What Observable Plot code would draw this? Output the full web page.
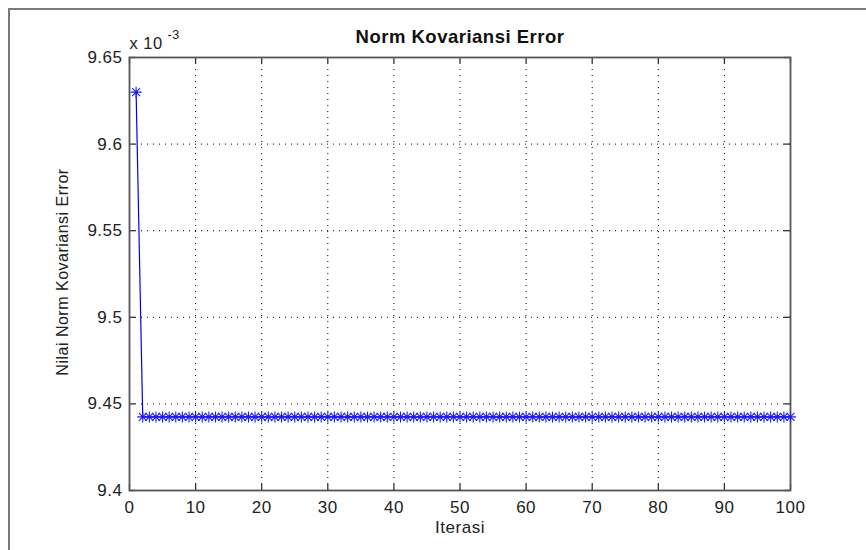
<!DOCTYPE html>
<html>
<head>
<meta charset="utf-8">
<script src="https://cdn.jsdelivr.net/npm/d3@7"></script>
<script src="https://cdn.jsdelivr.net/npm/@observablehq/plot@0.6"></script>
<style>
  html, body { margin: 0; padding: 0; background: #fff; }
  #wrap { position: relative; width: 866px; height: 550px; overflow: hidden; }
  #outer { position: absolute; left: 8px; top: 8px; width: 900px; height: 600px;
           border-left: 2px solid #7a7a7a; border-top: 2px solid #7a7a7a; }
  #chart { position: absolute; left: 0; top: 0; }
  svg { font-family: "Liberation Sans", Arial, sans-serif; }
  svg text { letter-spacing: 0.5px; }
</style>
</head>
<body>
<div id="wrap"><div id="outer"></div><div id="chart"></div></div>
<script>
// Data (values in units of 10^-3)
const iterasi = [
  1,2,3,4,5,6,7,8,9,10,11,12,13,14,15,16,17,18,19,20,
  21,22,23,24,25,26,27,28,29,30,31,32,33,34,35,36,37,38,39,40,
  41,42,43,44,45,46,47,48,49,50,51,52,53,54,55,56,57,58,59,60,
  61,62,63,64,65,66,67,68,69,70,71,72,73,74,75,76,77,78,79,80,
  81,82,83,84,85,86,87,88,89,90,91,92,93,94,95,96,97,98,99,100
];
const normError = [
  9.63,9.4425,9.4425,9.4425,9.4425,9.4425,9.4425,9.4425,9.4425,9.4425,
  9.4425,9.4425,9.4425,9.4425,9.4425,9.4425,9.4425,9.4425,9.4425,9.4425,
  9.4425,9.4425,9.4425,9.4425,9.4425,9.4425,9.4425,9.4425,9.4425,9.4425,
  9.4425,9.4425,9.4425,9.4425,9.4425,9.4425,9.4425,9.4425,9.4425,9.4425,
  9.4425,9.4425,9.4425,9.4425,9.4425,9.4425,9.4425,9.4425,9.4425,9.4425,
  9.4425,9.4425,9.4425,9.4425,9.4425,9.4425,9.4425,9.4425,9.4425,9.4425,
  9.4425,9.4425,9.4425,9.4425,9.4425,9.4425,9.4425,9.4425,9.4425,9.4425,
  9.4425,9.4425,9.4425,9.4425,9.4425,9.4425,9.4425,9.4425,9.4425,9.4425,
  9.4425,9.4425,9.4425,9.4425,9.4425,9.4425,9.4425,9.4425,9.4425,9.4425,
  9.4425,9.4425,9.4425,9.4425,9.4425,9.4425,9.4425,9.4425,9.4425,9.4425
];
const xTicks = [0,10,20,30,40,50,60,70,80,90,100];
const yTicks = [9.4,9.45,9.5,9.55,9.6,9.65];
const yTickLabels = ["9.4","9.45","9.5","9.55","9.6","9.65"];
const title = "Norm Kovariansi Error";
const xLabel = "Iterasi";
const yLabel = "Nilai Norm Kovariansi Error";
const expBase = "x 10";
const expPow = "-3";

const data = iterasi.map((x, i) => ({x, y: normError[i]}));

// MATLAB-style '*' marker (plus + times)
const starSymbol = {
  draw(ctx, size) {
    const r = Math.sqrt(size / Math.PI);
    const d = r * 0.72;
    ctx.moveTo(-r, 0); ctx.lineTo(r, 0);
    ctx.moveTo(0, -r); ctx.lineTo(0, r);
    ctx.moveTo(-d, -d); ctx.lineTo(d, d);
    ctx.moveTo(-d, d); ctx.lineTo(d, -d);
  }
};

const W = 866, H = 550, mL = 129, mR = 76, mT = 57, mB = 60;
const innerW = W - mL - mR, innerH = H - mT - mB;
const ink = "#222";

const plot = Plot.plot({
  width: W, height: H,
  marginLeft: mL, marginRight: mR, marginTop: mT, marginBottom: mB,
  style: {fontFamily: "'Liberation Sans', Arial, sans-serif", fontSize: "17px", color: ink, background: "transparent"},
  x: {domain: [0, 100]},
  y: {domain: [9.4, 9.65]},
  marks: [
    // dotted grid
    Plot.ruleX(xTicks.slice(1, -1), {stroke: "#000", strokeWidth: 1, strokeDasharray: "1,5"}),
    Plot.ruleY(yTicks.slice(1, -1), {stroke: "#000", strokeWidth: 1, strokeDasharray: "1,5"}),
    // inward ticks
    Plot.ruleX(xTicks, {insetTop: innerH - 6, stroke: "#333", strokeWidth: 1.3}),
    Plot.ruleX(xTicks, {insetBottom: innerH - 6, stroke: "#333", strokeWidth: 1.3}),
    Plot.ruleY(yTicks, {insetRight: innerW - 6, stroke: "#333", strokeWidth: 1.3}),
    Plot.ruleY(yTicks, {insetLeft: innerW - 6, stroke: "#333", strokeWidth: 1.3}),
    Plot.frame({stroke: "#555", strokeWidth: 1.8}),
    // axes labels
    Plot.axisX({ticks: xTicks, tickSize: 0, tickPadding: 10, label: null, fontSize: 17, fill: ink}),
    Plot.axisY({ticks: yTicks, tickFormat: (d) => yTickLabels[yTicks.indexOf(d)] ?? String(d), tickSize: 0, tickPadding: 7, label: null, fontSize: 17, fill: ink}),
    // data
    Plot.line(data, {x: "x", y: "y", stroke: "#0000ff", strokeWidth: 1.2}),
    Plot.dot(data, {x: "x", y: "y", symbol: starSymbol, r: 5.5, stroke: "#1a1aff", strokeWidth: 1.1}),
    // texts
    Plot.text([title], {text: d => d, frameAnchor: "top", lineAnchor: "middle", dy: -20, fontWeight: "bold", fontSize: 18.5, fill: "#111"}),
    Plot.text([xLabel], {text: d => d, frameAnchor: "bottom", lineAnchor: "middle", dy: 37, fontSize: 17, fill: ink}),
    Plot.text([yLabel], {text: d => d, frameAnchor: "left", textAnchor: "middle", lineAnchor: "middle", dx: -67, dy: -2, rotate: -90, fontSize: 16, fill: ink}),
    Plot.text([expBase], {text: d => d, frameAnchor: "top-left", textAnchor: "start", lineAnchor: "bottom", dx: 0, dy: -9, fontSize: 16.5, fill: ink}),
    Plot.text([expPow], {text: d => d, frameAnchor: "top-left", textAnchor: "start", lineAnchor: "bottom", dx: 38, dy: -19, fontSize: 12.5, fill: ink})
  ]
});
document.getElementById("chart").appendChild(plot);
</script>
</body>
</html>
